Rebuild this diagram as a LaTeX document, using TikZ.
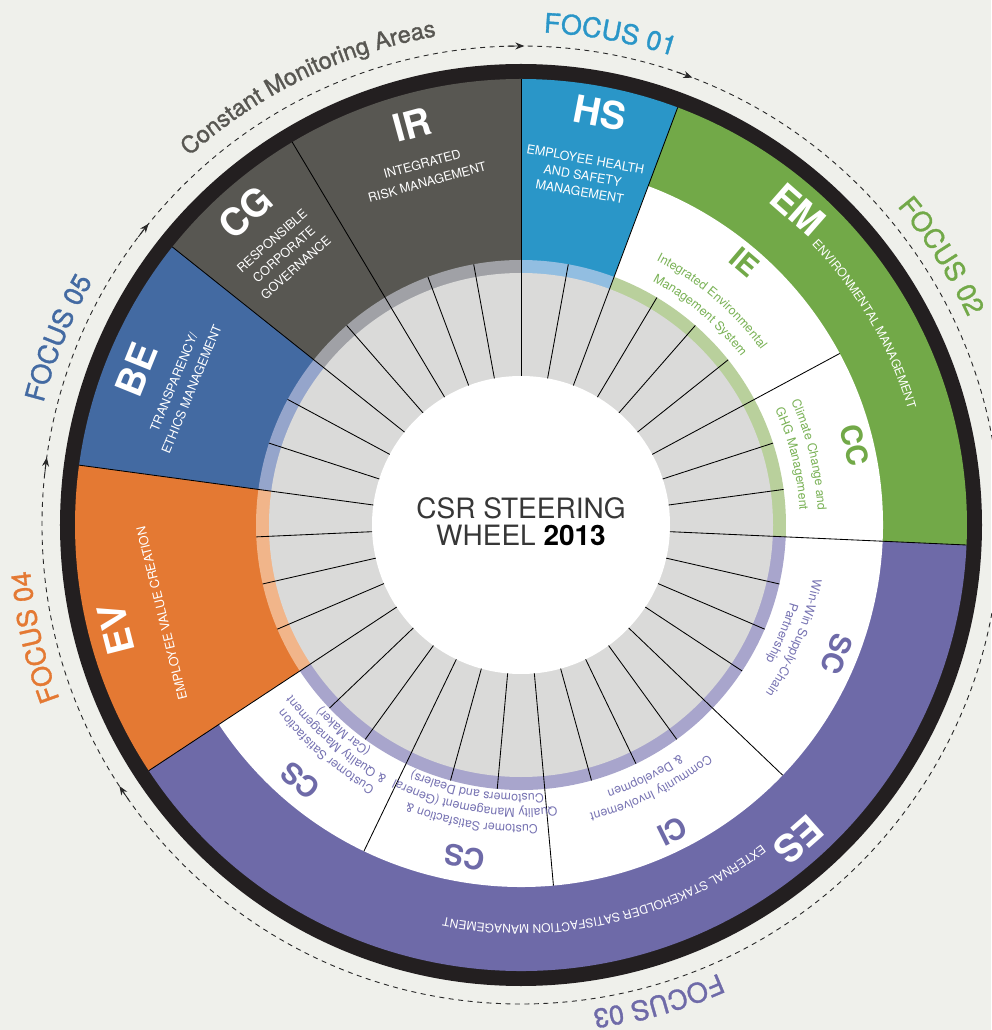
\documentclass[tikz,border=0pt]{standalone}
\usepackage{fontspec}
\setmainfont{TeX Gyre Heros}
\newfontface\mediumface[FakeBold=1.2]{TeX Gyre Heros}
\usetikzlibrary{decorations.text,arrows.meta}

\definecolor{bg}{RGB}{239,240,235}
\definecolor{ringblack}{RGB}{35,31,32}
\definecolor{irgrey}{RGB}{88,87,82}
\definecolor{irlight}{RGB}{160,161,166}
\definecolor{hsblue}{RGB}{42,150,200}
\definecolor{hslight}{RGB}{146,190,225}
\definecolor{emgreen}{RGB}{114,169,72}
\definecolor{emlight}{RGB}{185,208,156}
\definecolor{emtext}{RGB}{122,178,86}
\definecolor{beblue}{RGB}{67,106,162}
\definecolor{belight}{RGB}{149,165,203}
\definecolor{evorange}{RGB}{228,121,51}
\definecolor{evlight}{RGB}{241,181,138}
\definecolor{espurple}{RGB}{110,106,168}
\definecolor{eslight}{RGB}{168,165,204}
\definecolor{estext}{RGB}{118,114,178}
\definecolor{cellgrey}{RGB}{218,218,217}
\definecolor{dashcol}{RGB}{40,40,40}
\definecolor{csrtext}{RGB}{55,55,55}

\newcommand{\piesec}[4]{\fill[#1] (0,0) -- (#2:#4pt) arc[start angle=#2, end angle=#3, radius=#4pt] -- cycle;}
\newcommand{\arctext}[5]{%
  \pgfmathsetmacro{\arcS}{#2+40}%
  \pgfmathsetmacro{\arcE}{#2-40}%
  \path[decorate, decoration={text along path, text align=center, text color=#1, text={|#4|#5}}] (\arcS:#3pt) arc[start angle=\arcS, end angle=\arcE, radius=#3pt];%
}
\newcommand{\smallf}{\fontsize{12.4}{12.4}\selectfont}
\newcommand{\bandf}{\fontsize{12}{12}\selectfont}
\newcommand{\focusf}{\mediumface\fontsize{27}{27}\selectfont}

\tikzset{
  bigab/.style={font=\bfseries\fontsize{38}{38}\selectfont, text=white, inner sep=0pt},
  subab/.style={font=\bfseries\fontsize{29}{29}\selectfont, inner sep=0pt},
  wtext/.style={font=\fontsize{12.5}{#1}\selectfont, text=white, align=center, inner sep=0pt},
  wtext/.default=17,
  spoke/.style={line width=0.85pt, black},
  dashring/.style={dashcol, line width=0.9pt, dash pattern=on 5pt off 4.5pt},
  ringarrow/.style={dashcol, line width=0.9pt, -{Stealth[length=9pt,width=7pt]}},
}

\begin{document}
\begin{tikzpicture}[x=1pt,y=1pt]
\fill[bg] (-521,-505) rectangle (470,525);
\useasboundingbox (-521,-505) rectangle (470,525);

% outer black ring
\fill[ringblack] (0,0) circle[radius=461pt];

% main coloured sectors
\piesec{hsblue}{69.429}{90}{446}
\piesec{irgrey}{90}{141.429}{446}
\piesec{beblue}{141.429}{172.286}{446}
\piesec{evorange}{172.286}{213.429}{446}
\piesec{espurple}{213.429}{357.429}{446}
\piesec{emgreen}{-2.571}{69.429}{446}
% white sub ring
\piesec{white}{-146.571}{69.429}{362}
% light ring
\piesec{hslight}{69.429}{90}{265}
\piesec{irlight}{90}{141.429}{265}
\piesec{belight}{141.429}{172.286}{265}
\piesec{evlight}{172.286}{213.429}{265}
\piesec{eslight}{213.429}{357.429}{265}
\piesec{emlight}{-2.571}{69.429}{265}
% grey cells and centre
\fill[cellgrey] (0,0) circle[radius=252pt];
\fill[white] (0,0) circle[radius=149pt];

% spokes
\foreach \k in {1,3,4,5,7,8,10,11,12,14,15,16,18,19,21,22,24,25,26,28,29,31,33,34}
  {\draw[spoke] ({90-\k*360/35}:149pt) -- ({90-\k*360/35}:265pt);}
\foreach \k in {6,13,17,20}
  {\draw[spoke] ({90-\k*360/35}:149pt) -- ({90-\k*360/35}:362pt);}
\foreach \k in {0,2,9,23,27,30,32}
  {\draw[spoke] ({90-\k*360/35}:149pt) -- ({90-\k*360/35}:446pt);}

% centre text
\node[font=\fontsize{28}{28}\selectfont, text=csrtext, anchor=base, inner sep=0pt] (csr1) at (0,6) {CSR STEERING};
\node[font=\fontsize{28}{28}\selectfont, text=csrtext, anchor=base, inner sep=0pt] (csr2) at (0,-21) {WHEEL \textbf{\color{black}2013}};

% main abbreviations
\node[bigab, rotate=-10.9] (hs) at (79.1:420pt) {HS};
\node[wtext=16.5, rotate=-10] (hst) at (80:355pt) {EMPLOYEE HEALTH\\AND SAFETY\\MANAGEMENT};
\node[bigab, rotate=15.2] (ir) at (105.2:415pt) {IR};
\node[wtext=19, rotate=15.3] (irt) at (105.3:365pt) {INTEGRATED\\RISK MANAGEMENT};
\node[bigab, rotate=41.4] (cg) at (131.4:417pt) {CG};
\node[wtext=18, rotate=41.2] (cgt) at (131.2:360pt) {RESPONSIBLE\\CORPORATE\\GOVERNANCE};
\node[bigab, rotate=68] (be) at (158:415pt) {BE};
\node[wtext=19, rotate=67.6] (bet) at (157.6:366pt) {TRANSPARENCY/\\ETHICS MANAGEMENT};
\node[bigab, rotate=104.4] (ev) at (194.4:418pt) {EV};
\node[wtext, rotate=103.8] (evt) at (193.8:370pt) {EMPLOYEE VALUE CREATION};
\node[bigab, rotate=-41.3] (em) at (48.7:420pt) {EM};
\node[bigab, rotate=-138.6] (es) at (-48.6:420pt) {ES};

\path[decorate, decoration={text along path, text color=white, text={|\bandf|ENVIRONMENTAL MANAGEMENT}}] (44:404pt) arc[start angle=44, end angle=-10, radius=404pt];
\path[decorate, decoration={text along path, text color=white, text={|\bandf|EXTERNAL STAKEHOLDER SATISFACTION MANAGEMENT}}] (-53:400pt) arc[start angle=-53, end angle=-150, radius=400pt];

% sub abbreviations
\node[subab, text=emgreen, rotate=-40.4] (ie) at (49.6:345pt) {IE};
\node[subab, text=emgreen, rotate=-76.6] (cc) at (13.4:343pt) {CC};
\node[subab, text=espurple, rotate=-112.2] (sc) at (-22.2:341pt) {SC};
\node[subab, text=espurple, rotate=-153.7] (ci) at (-63.7:342pt) {CI};
\node[subab, text=espurple, rotate=-189.6] (csg) at (-99.6:337pt) {CS};
\node[subab, text=espurple, rotate=-220.75] (csc) at (-130.75:337.5pt) {CS};

% sub texts
\arctext{emtext}{49.5}{297}{\smallf}{Integrated Environmental}
\arctext{emtext}{49.5}{277}{\smallf}{Management System}
\arctext{emtext}{13.7}{297}{\smallf}{Climate Change and}
\arctext{emtext}{13.7}{279}{\smallf}{GHG Management}
\arctext{estext}{-22.5}{297}{\smallf}{Win-Win Supply-Chain}
\arctext{estext}{-22.5}{280}{\smallf}{Partnership}
\arctext{estext}{-63.7}{296}{\smallf}{Community Involvement}
\arctext{estext}{-63.7}{279}{\smallf}{{\&} Developmen}
\arctext{estext}{-99.5}{300}{\smallf}{Customer Satisfaction {\&}}
\arctext{estext}{-99.5}{284}{\smallf}{Quality Management (General}
\arctext{estext}{-99.5}{269}{\smallf}{Customers and Dealers)}
\arctext{estext}{-130.7}{300}{\smallf}{Customer Satisfaction}
\arctext{estext}{-130.7}{285}{\smallf}{{\&} Quality Management}
\arctext{estext}{-130.7}{270}{\smallf}{(Car Maker)}

% dashed ring with arrows
\draw[dashring] (0,0) circle[radius=479pt];
\foreach \a in {90,69.429,141.429,172.286,213.429,-2.571}
  {\draw[ringarrow] ({\a+1.6}:479pt) arc[start angle={\a+1.6}, end angle={\a-0.4}, radius=479pt];}

% outer labels
\arctext{hsblue}{79.7}{493}{\focusf}{FOCUS 01}
\arctext{emgreen}{32.6}{493}{\focusf}{FOCUS 02}
\arctext{espurple}{-73.9}{490}{\focusf}{FOCUS 03}
\arctext{evorange}{193}{493}{\focusf}{FOCUS 04}
\arctext{beblue}{158}{493}{\focusf}{FOCUS 05}
\arctext{irgrey}{115.9}{496}{\mediumface\fontsize{23.5}{23.5}\selectfont}{Constant Monitoring Areas}
\end{tikzpicture}
\end{document}
